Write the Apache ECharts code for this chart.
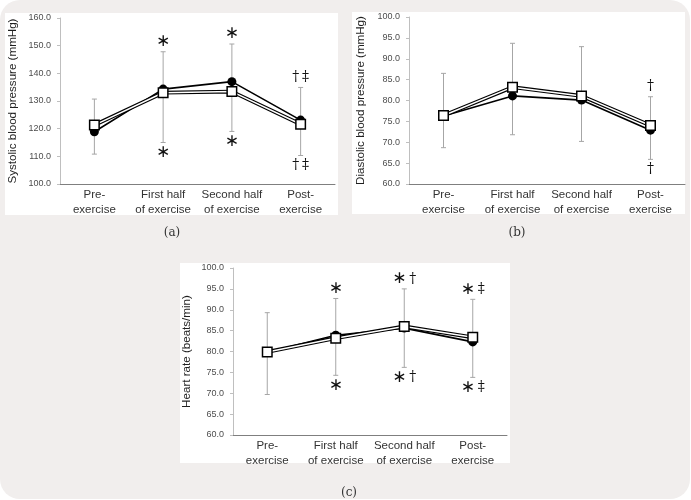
<!DOCTYPE html>
<html>
<head>
<meta charset="utf-8">
<script src="https://cdn.jsdelivr.net/npm/echarts@6/dist/echarts.min.js"></script>
<style>html,body{margin:0;padding:0;background:#fff;}#chart{width:691px;height:500px;}</style>
</head>
<body>
<div id="chart"></div>
<script>
// ---- Data ----
const categories = ['Pre-\nexercise', 'First half\nof exercise', 'Second half\nof exercise', 'Post-\nexercise'];

// (a) Systolic blood pressure (mmHg)
const sbpCircle = [118.9, 134.3, 137.0, 123.1];
const sbpSquare = [121.3, 133.0, 133.4, 121.6];
const sbpErrLow = [110.8, 115.0, 119.0, 110.3];
const sbpErrHigh = [130.7, 147.8, 150.6, 134.9];
const sbpMarkTop = ['', '\u2217', '\u2217', '\u2020 \u2021'];
const sbpMarkBottom = ['', '\u2217', '\u2217', '\u2020 \u2021'];

// (b) Diastolic blood pressure (mmHg)
const dbpCircle = [76.3, 81.1, 80.1, 72.9];
const dbpSquare = [76.4, 83.2, 81.1, 74.0];
const dbpErrLow = [68.7, 71.8, 70.2, 65.9];
const dbpErrHigh = [86.5, 93.7, 92.9, 80.9];
const dbpMarkTop = ['', '', '', '\u2020'];
const dbpMarkBottom = ['', '', '', '\u2020'];

// (c) Heart rate (beats/min)
const hrCircle = [79.8, 83.9, 85.6, 82.3];
const hrSquare = [79.9, 83.2, 86.0, 83.4];
const hrErrLow = [69.7, 74.3, 76.2, 73.8];
const hrErrHigh = [89.3, 92.7, 95.0, 92.5];
const hrMarkTop = ['', '\u2217', '\u2217 \u2020', '\u2217 \u2021'];
const hrMarkBottom = ['', '\u2217', '\u2217 \u2020', '\u2217 \u2021'];

const panels = [
  {name: 'Systolic blood pressure (mmHg)', min: 100, max: 160, interval: 10, circle: sbpCircle, square: sbpSquare, lo: sbpErrLow, hi: sbpErrHigh, top: sbpMarkTop, bottom: sbpMarkBottom,
   grid: {left: 60, top: 18, width: 275, height: 166}, nameGap: 41},
  {name: 'Diastolic blood pressure (mmHg)', min: 60, max: 100, interval: 5, circle: dbpCircle, square: dbpSquare, lo: dbpErrLow, hi: dbpErrHigh, top: dbpMarkTop, bottom: dbpMarkBottom,
   grid: {left: 409, top: 17, width: 276, height: 167}, nameGap: 42},
  {name: 'Heart rate (beats/min)', min: 60, max: 100, interval: 5, circle: hrCircle, square: hrSquare, lo: hrErrLow, hi: hrErrHigh, top: hrMarkTop, bottom: hrMarkBottom,
   grid: {left: 233, top: 268, width: 274, height: 167}, nameGap: 40}
];

function toRich(s) {
  return s.split(' ').filter(t => t).map(t => (t === '\u2217' ? '{a|' + t + '}' : '{d|' + t + '}')).join('{s| }');
}
const richStyles = {
  a: {font: '17px DejaVu Sans, sans-serif', fill: '#111', verticalAlign: 'middle'},
  d: {font: '14px DejaVu Serif, serif', fill: '#111', verticalAlign: 'middle'},
  s: {font: '8px DejaVu Serif, serif', fill: '#111'}
};

const grids = [], xAxes = [], yAxes = [], series = [];
panels.forEach((p, k) => {
  grids.push(Object.assign({containLabel: false}, p.grid));
  xAxes.push({
    type: 'category', gridIndex: k, data: categories, boundaryGap: true,
    axisLine: {lineStyle: {color: '#7f7f7f', width: 1}},
    axisTick: {show: false},
    axisLabel: {color: '#333333', fontFamily: 'Liberation Sans, Arial, sans-serif', fontSize: 11.5, lineHeight: 15, margin: 3, interval: 0}
  });
  yAxes.push({
    type: 'value', gridIndex: k, min: p.min, max: p.max, interval: p.interval,
    name: p.name, nameLocation: 'middle', nameGap: p.nameGap, nameRotate: 90,
    nameTextStyle: {color: '#1f1f1f', fontFamily: 'Liberation Sans, Arial, sans-serif', fontSize: 11.6},
    axisLine: {show: true, lineStyle: {color: '#bfbfbf', width: 1}},
    axisTick: {show: true, inside: false, length: 3, lineStyle: {color: '#bfbfbf'}},
    splitLine: {show: false},
    axisLabel: {color: '#4d4d4d', fontFamily: 'Liberation Sans, Arial, sans-serif', fontSize: 9, margin: 9, formatter: v => v.toFixed(1)}
  });
  const errData = p.lo.map((v, i) => [i, v, p.hi[i]]);
  series.push({
    type: 'custom', xAxisIndex: k, yAxisIndex: k, z: 1, silent: true,
    data: errData,
    renderItem: (params, api) => {
      const i = api.value(0);
      const hi = api.coord([i, api.value(2)]);
      const lo = api.coord([i, api.value(1)]);
      const x = hi[0];
      const cap = 2.5;
      const st = {stroke: '#a6a6a6', lineWidth: 1};
      return {
        type: 'group',
        children: [
          {type: 'line', shape: {x1: x, y1: hi[1], x2: x, y2: lo[1]}, style: st},
          {type: 'line', shape: {x1: x - cap, y1: hi[1], x2: x + cap, y2: hi[1]}, style: st},
          {type: 'line', shape: {x1: x - cap, y1: lo[1], x2: x + cap, y2: lo[1]}, style: st},
          {type: 'text', x: x, y: hi[1] - 10, style: {text: toRich(p.top[params.dataIndex]), rich: richStyles, align: 'center', verticalAlign: 'middle'}},
          {type: 'text', x: x, y: lo[1] + 10, style: {text: toRich(p.bottom[params.dataIndex]), rich: richStyles, align: 'center', verticalAlign: 'middle'}}
        ]
      };
    }
  });
  series.push({
    type: 'line', xAxisIndex: k, yAxisIndex: k, z: 2, data: p.circle,
    symbol: 'circle', symbolSize: 9,
    lineStyle: {color: '#000', width: 1.6},
    itemStyle: {color: '#000'}
  });
  series.push({
    type: 'line', xAxisIndex: k, yAxisIndex: k, z: 3, data: p.square,
    symbol: 'none', lineStyle: {color: '#000', width: 3.8}
  });
  series.push({
    type: 'line', xAxisIndex: k, yAxisIndex: k, z: 4, data: p.square,
    symbol: 'rect', symbolSize: 9.5,
    lineStyle: {color: '#fff', width: 1.5},
    itemStyle: {color: '#fff', borderColor: '#000', borderWidth: 1.5}
  });
});

const chart = echarts.init(document.getElementById('chart'), null, {renderer: 'canvas'});
chart.setOption({
  animation: false,
  backgroundColor: '#ffffff',
  graphic: [
    {type: 'rect', z: -10, shape: {x: 0, y: 0, width: 690, height: 499, r: 20}, style: {fill: '#f1eeed'}},
    {type: 'rect', z: -9, shape: {x: 5, y: 13, width: 333, height: 202}, style: {fill: '#ffffff'}},
    {type: 'rect', z: -9, shape: {x: 352, y: 12, width: 333, height: 202}, style: {fill: '#ffffff'}},
    {type: 'rect', z: -9, shape: {x: 180, y: 263, width: 330, height: 200}, style: {fill: '#ffffff'}},
    {type: 'text', z: 5, x: 172, y: 233, style: {text: '(a)', fill: '#333', font: '12px DejaVu Serif, serif', align: 'center', verticalAlign: 'middle'}},
    {type: 'text', z: 5, x: 517, y: 233, style: {text: '(b)', fill: '#333', font: '12px DejaVu Serif, serif', align: 'center', verticalAlign: 'middle'}},
    {type: 'text', z: 5, x: 349, y: 493, style: {text: '(c)', fill: '#333', font: '12px DejaVu Serif, serif', align: 'center', verticalAlign: 'middle'}}
  ],
  grid: grids,
  xAxis: xAxes,
  yAxis: yAxes,
  series: series
});
</script>
</body>
</html>
